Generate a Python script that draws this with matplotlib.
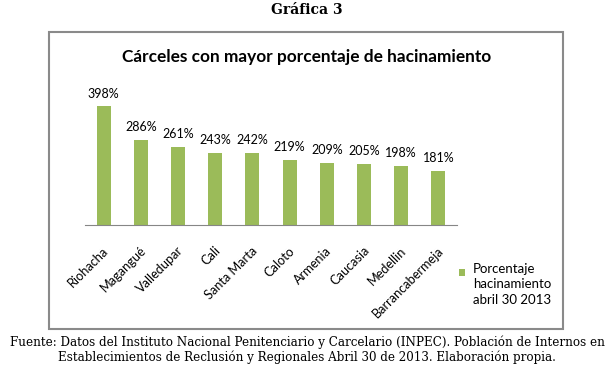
import matplotlib.pyplot as plt
import matplotlib.transforms as mtransforms
from matplotlib.patches import Rectangle, Patch
from matplotlib.legend_handler import HandlerPatch

# Datos
carceles = ['Riohacha', 'Magangué', 'Valledupar', 'Cali', 'Santa Marta',
            'Caloto', 'Armenia', 'Caucasia', 'Medellin', 'Barrancabermeja']
porcentaje = [398, 286, 261, 243, 242, 219, 209, 205, 198, 181]
serie = 'Porcentaje\nhacinamiento\nabril 30 2013'

verde = '#9BBB59'


# cuadrito de la leyenda alineado con la primera linea
class CuadroArriba(HandlerPatch):
    def create_artists(self, legend, orig_handle, xdescent, ydescent,
                       width, height, fontsize, trans):
        s = 0.47 * fontsize
        p = Rectangle((-xdescent, -ydescent + height - s * 1.15), s, s,
                      facecolor=verde, edgecolor='none', transform=trans)
        return [p]


fig = plt.figure(figsize=(6.14, 3.66), dpi=100)

# marco del grafico
fig.patches.append(Rectangle((49 / 614, 37 / 366), 514 / 614, 297 / 366,
                             transform=fig.transFigure, fill=False,
                             edgecolor='#8a8a8a', linewidth=1.5))

ax = fig.add_axes([85 / 614, 141 / 366, 372 / 614, 134 / 366])
x = range(len(carceles))
ax.bar(x, porcentaje, width=0.38, color=verde)
ax.set_xlim(-0.5, len(carceles) - 0.5)
ax.set_ylim(0, 450)

for xi, v in zip(x, porcentaje):
    ax.annotate(f'{v}%', (xi, v), xytext=(0, 5), textcoords='offset points',
                ha='center', va='bottom', fontsize=9, family='Lato')

for s in ['top', 'right', 'left']:
    ax.spines[s].set_visible(False)
ax.spines['bottom'].set_color('#868686')
ax.set_yticks([])
ax.set_xticks(list(x))
ax.set_xticklabels(carceles, rotation=45, ha='right', va='center',
                   rotation_mode='anchor', fontsize=9.2, family='Lato')
ax.tick_params(axis='x', length=0, pad=17)
offset = mtransforms.ScaledTranslation(3 / 100, 0, fig.dpi_scale_trans)
for lbl in ax.get_xticklabels():
    lbl.set_transform(lbl.get_transform() + offset)

leg = ax.legend(handles=[Patch(color=verde)], labels=[serie],
                handler_map={Patch: CuadroArriba()},
                loc='upper left', bbox_to_anchor=(452 / 614, 1 - 256 / 366),
                bbox_transform=fig.transFigure, frameon=False, borderpad=0,
                handlelength=0.47, handleheight=3.6, handletextpad=0.6,
                prop={'family': 'Lato', 'size': 9.5})
for t in leg.get_texts():
    t.set_linespacing(1.35)

fig.text(0.5, 1 - 57 / 366, 'Cárceles con mayor porcentaje de hacinamiento',
         ha='center', va='center', fontsize=12.4, fontweight='bold', family='Lato')
fig.text(0.5, 1 - 10 / 366, 'Gráfica 3', ha='center', va='center',
         fontsize=10, fontweight='bold', family='DejaVu Serif')
fig.text(0.5, 1 - 342 / 366,
         'Fuente: Datos del Instituto Nacional Penitenciario y Carcelario (INPEC). '
         'Población de Internos en', ha='center', va='center', fontsize=8.6,
         family='DejaVu Serif')
fig.text(0.5, 1 - 357 / 366,
         'Establecimientos de Reclusión y Regionales Abril 30 de 2013. '
         'Elaboración propia.', ha='center', va='center', fontsize=8.6,
         family='DejaVu Serif')

fig.savefig('out.png', dpi=100)
